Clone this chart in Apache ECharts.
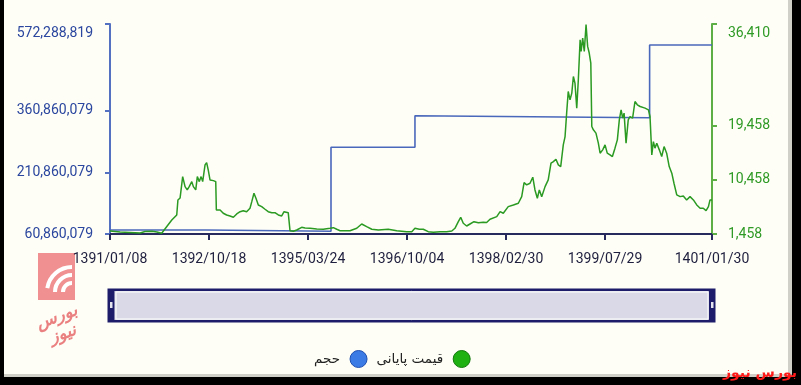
<!DOCTYPE html>
<html><head><meta charset="utf-8">
<script src="https://cdn.jsdelivr.net/npm/echarts@6/dist/echarts.min.js"></script>
<style>html,body{margin:0;padding:0;background:#fefef6;}#c{width:801px;height:385px;}</style>
</head><body><div id="c"></div>
<script>
// x = trading-day index (0..304); labels at tick positions
const tickPositions = [0, 50, 100, 150, 200, 250, 304];
const tickLabels = ['1391/01/08', '1392/10/18', '1395/03/24', '1396/10/04', '1398/02/30', '1399/07/29', '1401/01/30'];
const leftTicks = [60860079, 210860079, 360860079, 572288819];
const rightTicks = [1458, 10458, 19458, 36410];
const seriesNames = ['حجم', 'قیمت پایانی'];

const priceDays = [0,5.1,10.1,15.2,17.7,21.2,23.7,26.1,28.6,31.2,
33.7,34.3,35.4,36.7,37.9,39.0,40.0,41.3,42.1,43.3,
44.1,45.1,46.0,46.8,48.0,48.8,49.6,50.5,52.2,53.4,
53.7,54.7,55.6,57.2,58.9,60.6,62.3,64.0,65.7,67.3,
69.0,70.7,71.6,72.7,73.7,74.9,76.6,78.3,79.9,81.7,
83.3,85.0,86.7,87.9,88.9,90.0,90.9,92.6,94.3,96.8,
98.5,101.0,104.4,107.7,111.1,112.8,114.5,116.2,121.2,124.6,
127.1,129.6,132.2,135.5,140.5,144.8,149.8,152.4,154.0,156.2,
158.2,160.7,163.3,166.7,170.0,172.6,174.2,175.9,177.1,178.4,
180.1,181.8,183.8,186.0,188.5,190.2,191.9,192.8,195.3,197.0,
198.6,201.1,203.7,206.2,207.9,209.1,210.4,212.1,213.5,214.6,
215.8,216.8,218.0,219.7,221.3,222.7,223.9,225.2,226.4,227.6,
228.9,229.8,230.6,231.4,232.3,233.2,234.0,234.8,235.7,236.5,
237.4,237.9,238.7,239.5,240.4,241.2,242.0,242.8,243.3,244.1,
245.4,246.6,247.5,248.8,250.0,251.1,252.5,253.7,255.0,256.2,
257.2,258.1,258.9,259.6,260.6,261.7,262.6,263.9,265.1,266.3,
267.7,270.2,271.9,272.7,273.6,274.4,275.2,276.1,277.4,278.6,
279.8,281.1,282.4,283.7,284.8,286.2,287.9,289.5,291.2,292.9,
294.6,296.3,298.0,299.6,301.0,302.2,303.0,304];
const priceValues = [1958,1791,1708,1625,1875,1908,1791,1575,2675,3792,
4625,7126,7459,11010,9343,8793,9343,10176,9343,8793,
11010,10176,11010,10176,12960,13344,12127,10460,10343,10176,
5459,5742,5459,4909,4625,4459,4242,4792,5175,5342,
5175,5742,6842,8243,7409,6292,6009,5576,5175,5009,
5009,4625,4459,5175,5459,5009,2008,1908,2125,2575,
2458,2408,2292,2242,2408,2508,2242,2008,2008,2408,
3125,2675,2242,2125,2242,2008,1841,1841,2408,2242,
2242,1841,1741,1841,1841,1958,2408,3508,4242,3242,
2792,3125,3508,3342,3408,3375,3909,4075,4342,5175,
4909,6009,6292,6576,7676,10010,9626,9910,10910,8793,
7409,8793,7676,9343,10460,13244,13510,13910,12960,12677,
16294,17678,21579,25179,23796,24913,27680,26580,22412,27130,
33798,31848,34081,31848,36298,32681,31581,29914,19345,18795,
18244,16578,14911,15461,16294,14911,14627,14344,15744,17128,
20462,22129,20745,21579,16578,20462,21012,20745,23512,22963,
22679,22412,22129,21012,14627,16844,15744,16578,15461,14344,
16011,14911,12677,11577,9910,7959,7676,7793,7126,7676,
7126,6292,5742,5742,5342,6009,7126,7126];

const volumeDays = [0, 48.5, 48.5, 111.6, 111.6, 154, 154, 272.5, 272.5, 304];
const volumeValues = [70600000, 70600000, 67500000, 67500000, 272300000, 272300000, 348700000, 343800000, 521100000, 521100000];

const fmt = v => String(Math.round(v)).replace(/\B(?=(\d{3})+(?!\d))/g, ',');
const priceData = priceDays.map((d, i) => [d, priceValues[i]]);
const volumeData = volumeDays.map((d, i) => [d, volumeValues[i]]);

const chart = echarts.init(document.getElementById('c'), null, {renderer: 'canvas'});
chart.setOption({
  backgroundColor: '#fefef6',
  animation: false,
  grid: {left: 110, right: 89, top: 24, bottom: 151, containLabel: false},
  xAxis: {
    type: 'value', min: 0, max: 304,
    axisLine: {lineStyle: {color: '#262a5c', width: 2}},
    axisTick: {show: true, length: 6, customValues: tickPositions, lineStyle: {color: '#262a5c', width: 2}},
    splitLine: {show: false},
    axisLabel: {
      customValues: tickPositions,
      formatter: v => { const i = tickPositions.indexOf(v); return i >= 0 ? tickLabels[i] : ''; },
      color: '#1e1e3e', fontSize: 14, fontFamily: 'Roboto', margin: 18
    }
  },
  yAxis: [{
    type: 'value', position: 'left', min: leftTicks[0], max: leftTicks[leftTicks.length - 1],
    axisLine: {show: true, lineStyle: {color: '#5470c0', width: 2}},
    axisTick: {show: true, length: 5, customValues: leftTicks, lineStyle: {color: '#5470c0', width: 2}},
    splitLine: {show: false},
    axisLabel: {customValues: leftTicks, formatter: fmt, color: '#2a469e', fontSize: 14, fontFamily: 'Roboto', margin: 17, verticalAlignMaxLabel: 'top', padding: [2, 0, 0, 0]}
  }, {
    type: 'value', position: 'right', min: rightTicks[0], max: rightTicks[rightTicks.length - 1],
    axisLine: {show: true, lineStyle: {color: '#5cae45', width: 2}},
    axisTick: {show: true, length: 5, customValues: rightTicks, lineStyle: {color: '#5cae45', width: 2}},
    splitLine: {show: false},
    axisLabel: {customValues: rightTicks, formatter: fmt, color: '#2f9a25', fontSize: 14, fontFamily: 'Roboto', margin: 16, verticalAlignMaxLabel: 'top', padding: [2, 0, 0, 0]}
  }],
  dataZoom: [{
    type: 'slider', xAxisIndex: 0, filterMode: 'none', start: 0, end: 100,
    left: 110.5, right: 88.5, top: 290, height: 31,
    showDetail: false, showDataShadow: false, brushSelect: false, moveHandleSize: 0,
    backgroundColor: '#d9d9e7', fillerColor: '#d9d9e7', borderColor: '#1c1c6a', borderRadius: 0,
    handleIcon: 'path://M0,0H18V100H0Z', handleSize: '100%',
    handleStyle: {color: '#1c1c6a', borderColor: '#1c1c6a', borderWidth: 0},
    emphasis: {handleStyle: {color: '#1c1c6a', borderColor: '#1c1c6a'}}
  }],
  legend: {
    data: [
      {name: seriesNames[0], itemStyle: {color: '#3b7be6', borderColor: '#1f4fb0', borderWidth: 1}},
      {name: seriesNames[1], itemStyle: {color: '#1fb012', borderColor: '#137a0c', borderWidth: 1}}
    ],
    left: 309, top: 345, align: 'right', icon: 'circle', itemWidth: 17, itemHeight: 17, itemGap: 9,
    textStyle: {fontFamily: 'DejaVu Sans', fontSize: 13.5, color: '#222', padding: [0, 5, 0, 0]}
  },
  series: [{
    name: seriesNames[0], type: 'line', yAxisIndex: 0, data: volumeData, showSymbol: false,
    color: '#3b7be6', lineStyle: {color: '#4a68bb', width: 1.6}, z: 2
  }, {
    name: seriesNames[1], type: 'line', yAxisIndex: 1, data: priceData, showSymbol: false,
    color: '#1fb012', lineStyle: {color: '#2a9a22', width: 1.5}, z: 3
  }],
  graphic: [
    {type: 'rect', z: -10, shape: {x: 38, y: 253, width: 37, height: 47}, style: {fill: '#f19090'}},
    {type: 'arc', z: -9, shape: {cx: 72, cy: 292, r: 9, startAngle: Math.PI, endAngle: Math.PI * 1.5}, style: {stroke: '#fff', lineWidth: 4, fill: null}},
    {type: 'arc', z: -9, shape: {cx: 72, cy: 292, r: 17, startAngle: Math.PI, endAngle: Math.PI * 1.5}, style: {stroke: '#fff', lineWidth: 4, fill: null}},
    {type: 'arc', z: -9, shape: {cx: 72, cy: 292, r: 25, startAngle: Math.PI * 1.05, endAngle: Math.PI * 1.5}, style: {stroke: '#fff', lineWidth: 4, fill: null}},
    {type: 'text', z: -9, x: 60, y: 326, rotation: 0.35, style: {text: 'بورس\nنیوز', fill: '#ea8080', font: 'italic bold 17px "DejaVu Sans"', align: 'center', verticalAlign: 'middle', lineHeight: 18}},
    {type: 'rect', z: 10, shape: {x: 116, y: 292, width: 592, height: 27}, style: {fill: null, stroke: '#ffffff', lineWidth: 1}},
    {type: 'rect', z: 10, shape: {x: 108.5, y: 289.5, width: 606, height: 32}, style: {fill: null, stroke: '#1c1c6a', lineWidth: 2}},
    {type: 'rect', z: 11, shape: {x: 108, y: 289, width: 6, height: 33}, style: {fill: '#1c1c6a'}},
    {type: 'rect', z: 11, shape: {x: 709, y: 289, width: 6, height: 33}, style: {fill: '#1c1c6a'}},
    {type: 'rect', z: 12, shape: {x: 110, y: 302, width: 2.5, height: 6}, style: {fill: '#e4e4ee'}},
    {type: 'rect', z: 12, shape: {x: 711, y: 302, width: 2.5, height: 6}, style: {fill: '#e4e4ee'}},
    {type: 'rect', shape: {x: 0, y: 0, width: 4, height: 385}, style: {fill: '#000'}},
    {type: 'rect', shape: {x: 788, y: 0, width: 4, height: 385}, style: {fill: 'rgba(0,0,0,0.18)'}},
    {type: 'rect', shape: {x: 792, y: 0, width: 9, height: 385}, style: {fill: '#000'}},
    {type: 'rect', shape: {x: 0, y: 374, width: 801, height: 3}, style: {fill: 'rgba(0,0,0,0.18)'}},
    {type: 'rect', shape: {x: 0, y: 377, width: 801, height: 8}, style: {fill: '#000'}},
    {type: 'text', x: 797, y: 373, style: {text: 'بورس نیوز', fill: '#ff1a1a', font: 'bold 14px "DejaVu Sans"', align: 'right', verticalAlign: 'middle'}}
  ]
});
</script></body></html>
